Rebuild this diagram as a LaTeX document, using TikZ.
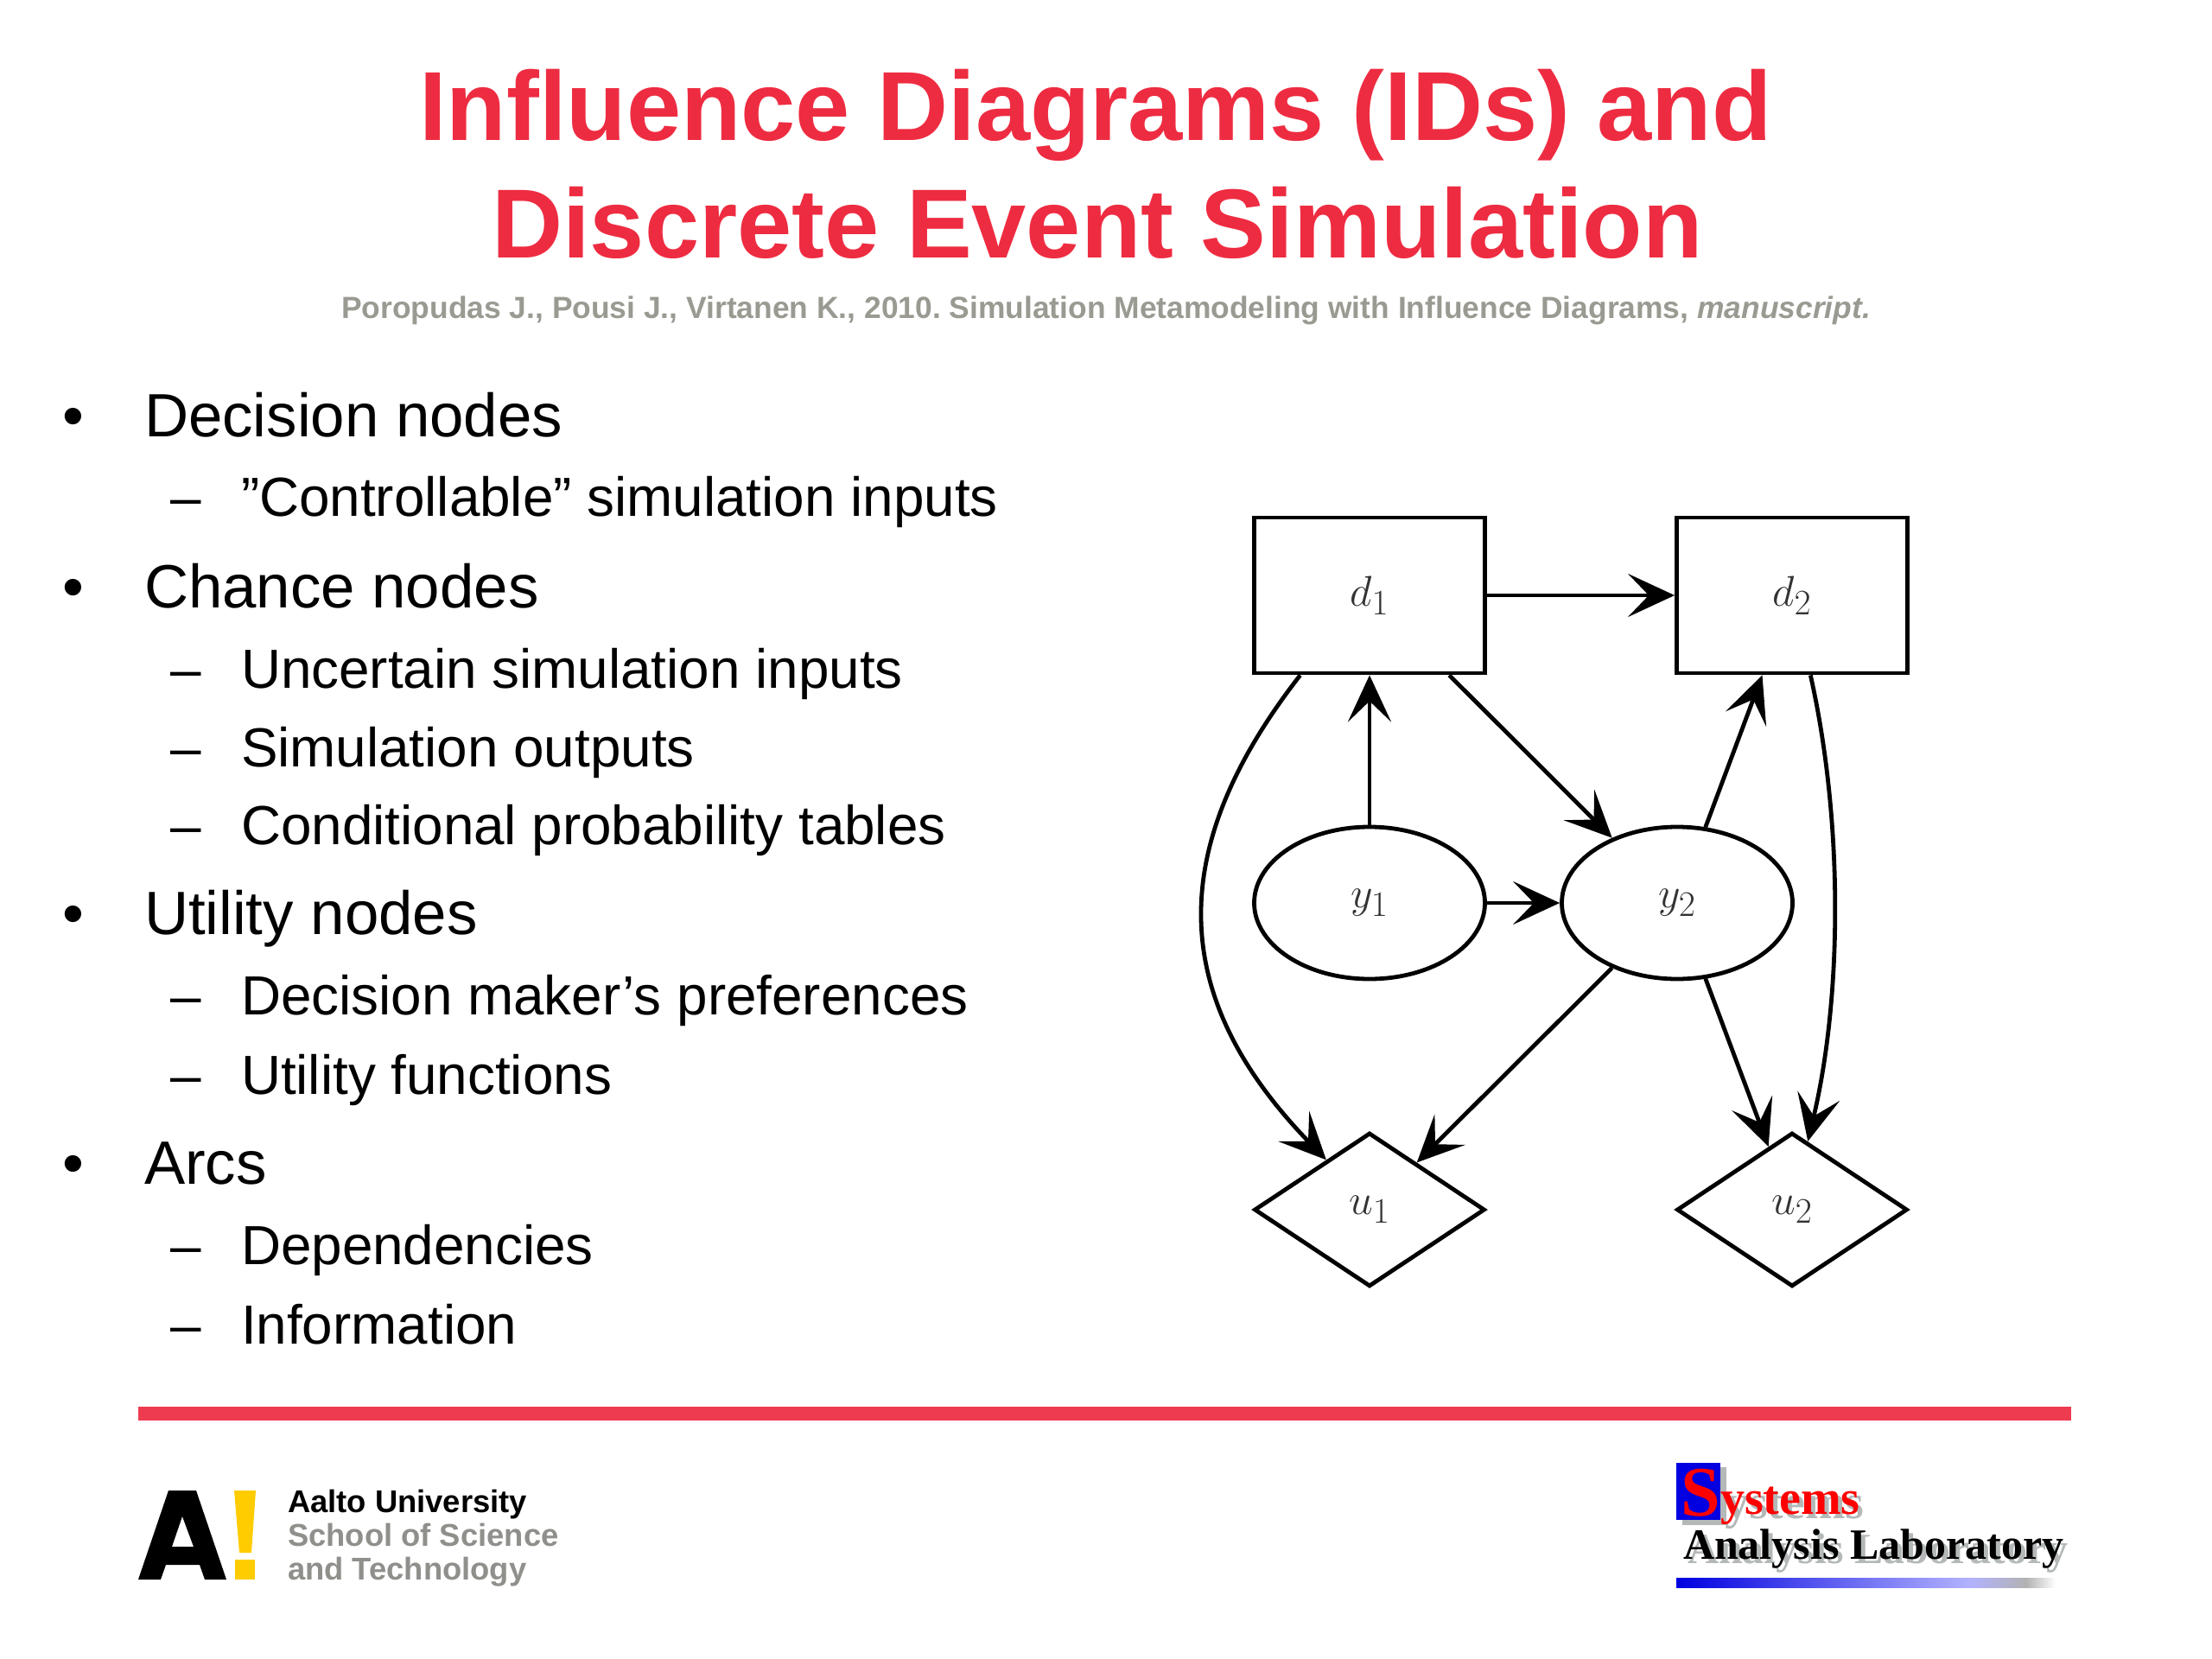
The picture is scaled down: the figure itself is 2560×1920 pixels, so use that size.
\documentclass[tikz,border=0pt]{standalone}
\usepackage[no-math]{fontspec}
\setmainfont{Liberation Sans}
\newfontfamily\logoserif{Liberation Serif}
\usetikzlibrary{arrows.meta,shapes.geometric,positioning}
\definecolor{aaltored}{HTML}{EE2C41}
\definecolor{barred}{HTML}{EE3B50}
\definecolor{citegrey}{HTML}{9A9A92}
\definecolor{schoolgrey}{HTML}{8F8F8B}
\definecolor{aaltoyellow}{HTML}{FFCC00}
\definecolor{labblue}{HTML}{0000E0}
\definecolor{labshadow}{HTML}{B4B8B8}
\tikzset{>={Stealth[length=27pt,width=25pt,inset=12pt]}}
\tikzset{%
    txt/.style={inner sep=0pt,outer sep=0pt,anchor=base west},%
    toptxt/.style={txt,font=\fontsize{35.4}{40}\selectfont},%
    subtxt/.style={txt,font=\fontsize{31.9}{38}\selectfont},%
    titletxt/.style={inner sep=0pt,anchor=base,text=aaltored,font=\fontsize{56.8}{66}\selectfont\bfseries},%
    schooltxt/.style={txt,font=\fontsize{18.2}{22}\selectfont\bfseries,text=schoolgrey},%
    dnode/.style={draw,rectangle,minimum width=133.5pt,minimum height=90pt,inner sep=0pt},%
    ynode/.style={draw,ellipse,minimum width=133.5pt,minimum height=88pt,inner sep=0pt},%
    unode/.style={draw,diamond,minimum width=133.5pt,minimum height=89pt,inner sep=0pt},%
    graphlbl/.style={font=\fontsize{30}{34}\selectfont,text=black!80}%
}

\begin{document}
\begin{tikzpicture}[x=0.5pt,y=-0.5pt]
      \useasboundingbox (0,0) rectangle (2560,1920);
      % title
      \node[titletxt] (title1) at (1268,163) {Influence Diagrams (IDs) and};
      \node[titletxt] (title2) at (1270,299) {Discrete Event Simulation};
      \node[inner sep=0pt,anchor=base,text=citegrey,font=\fontsize{17.7}{20}\selectfont\bfseries] (cite) at (1280,369)
        {\frenchspacing Poropudas J., Pousi J., Virtanen K., 2010. Simulation Metamodeling with Influence Diagrams, \textit{manuscript.}};
      % bullets
      \foreach \n/\ypos/\lbl in {a/506/Decision nodes,b/703/Chance nodes,c/1081/Utility nodes,d/1370/Arcs} {
        \node[toptxt] (bull\n) at (72,\ypos) {•};
        \node[toptxt] (top\n) at (167,\ypos) {\lbl};
      }
      \foreach \n/\ypos/\lbl in {a/597/”Controllable” simulation inputs,b/796/Uncertain simulation inputs,
          c/887/Simulation outputs,d/977/Conditional probability tables,e/1174/Decision maker’s preferences,
          f/1266/Utility functions,g/1463/Dependencies,h/1555/Information} {
        \node[subtxt] (dash\n) at (197,\ypos) {–};
        \node[subtxt] (sub\n) at (279,\ypos) {\lbl};
      }
      % graph
      \begin{scope}[line width=2.4pt]
      \node[dnode,graphlbl] (d1) at (1585,689) {$d_1$};
      \node[dnode,graphlbl] (d2) at (2074,689) {$d_2$};
      \node[ynode,graphlbl] (y1) at (1585,1045) {$y_1$};
      \node[ynode,graphlbl] (y2) at (1941,1045) {$y_2$};
      \node[unode,graphlbl] (u1) at (1585,1400) {$u_1$};
      \node[unode,graphlbl] (u2) at (2074,1400) {$u_2$};
      \draw[->] (d1) -- (d2);
      \draw[->] (y1) -- (d1);
      \draw[->] (y1) -- (y2);
      \draw[->] (d1) -- (y2);
      \draw[->] (y2) -- (d2);
      \draw[->] (y2) -- (u1);
      \draw[->] (y2) -- (u2);
      \draw[->] (d1) to[bend right=41,looseness=1.18] (u1);
      \draw[->] (d2) to[bend left=13,looseness=0.82] (u2);
      \end{scope}
      % rule
      \fill[barred] (160,1628) rectangle (2397,1644);
      % aalto logo
      \fill[black,even odd rule] (160,1828) -- (195,1725) -- (227,1725) -- (262,1828) -- (237,1828) -- (231,1811)
        -- (192,1811) -- (186,1828) -- cycle (211,1755) -- (199,1790) -- (224,1790) -- cycle;
      \fill[aaltoyellow] (271,1725) -- (296,1725) -- (291,1797) -- (277,1797) -- cycle;
      \fill[aaltoyellow] (272,1805) rectangle (295,1828);
      \node[txt,font=\fontsize{18.2}{22}\selectfont\bfseries] (aalto) at (333,1750) {Aalto University};
      \node[schooltxt] (school) at (333,1789) {School of Science};
      \node[schooltxt] (tech) at (333,1828) {and Technology};
      % lab logo
      \fill[labshadow] (1947,1698) rectangle (1998,1765);
      \fill[labblue] (1940,1693) rectangle (1991,1759);
      \node[txt,font=\logoserif\fontsize{41}{44}\selectfont\bfseries,text=red] (bigs) at (1945,1754) {S};
      \node[txt,font=\logoserif\fontsize{28}{32}\selectfont\bfseries,text=labshadow] (ysh) at (1996,1757) {ystems};
      \node[txt,font=\logoserif\fontsize{28}{32}\selectfont\bfseries,text=red] (ys) at (1991,1752) {ystems};
      \node[txt,font=\logoserif\fontsize{25}{30}\selectfont\bfseries,text=labshadow] (alsh) at (1953,1809) {Analysis Laboratory};
      \node[txt,font=\logoserif\fontsize{25}{30}\selectfont\bfseries] (al) at (1948,1804) {Analysis Laboratory};
      \shade[left color=labblue,right color=blue!30!white] (1940,1826) rectangle (2280,1837);
      \shade[left color=blue!30!white,right color=black!30] (2280,1826) rectangle (2345,1837);
      \shade[left color=black!30,right color=white] (2345,1826) rectangle (2379,1837);
\end{tikzpicture}
\end{document}
